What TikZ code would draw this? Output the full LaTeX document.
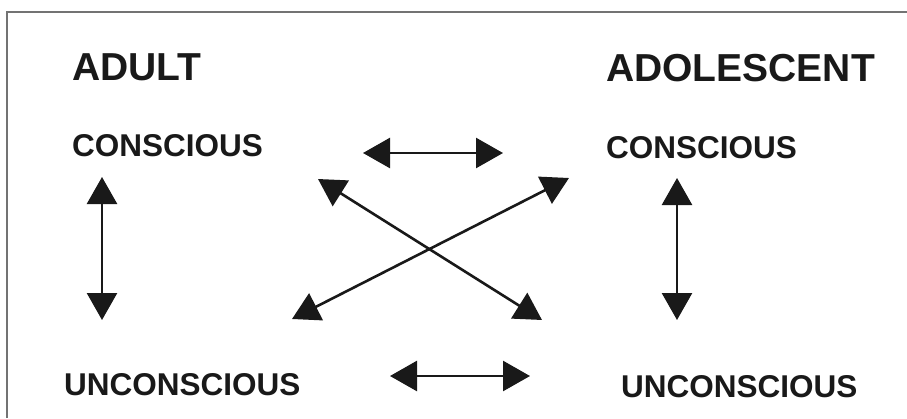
\documentclass[tikz,border=0pt]{standalone}
\usepackage{fontspec}
\setmainfont{Liberation Sans}
\usetikzlibrary{arrows.meta}
\begin{document}
\begin{tikzpicture}[x=1pt,y=-1pt,
  heading/.style={anchor=base west,inner sep=0pt,font=\fontsize{39}{39}\selectfont\bfseries,text=black!90},
  level/.style={anchor=base west,inner sep=0pt,font=\fontsize{31.5}{31.5}\selectfont\bfseries,text=black!90},
  link/.style={line width=2.6pt,draw=black!90,{Triangle[length=27pt,width=30pt]}-{Triangle[length=27pt,width=30pt]}},
  frame/.style={draw=black!55,line width=1.4pt}]
\useasboundingbox (0,0) rectangle (907,418);
\fill[white] (0,0) rectangle (907,418);
\draw[frame] (7,418) -- (7,12) -- (907,12);

% column headings
\node[heading] (adult) at (72,80) {ADULT};
\node[heading] (adol) at (606,81) {ADOLESCENT};

% levels of awareness
\node[level] (aconsc) at (72,156) {CONSCIOUS};
\node[level] (bconsc) at (606,158) {CONSCIOUS};
\node[level] (auncon) at (64,395) {UNCONSCIOUS};
\node[level] (buncon) at (621,397) {UNCONSCIOUS};

% arrow end points
\coordinate (aTop) at (102,177);
\coordinate (aBot) at (102,320);
\coordinate (bTop) at (677,178);
\coordinate (bBot) at (677,320);
\coordinate (hTopL) at (363,153);
\coordinate (hTopR) at (503,153);
\coordinate (hBotL) at (390,376);
\coordinate (hBotR) at (530,376);
\coordinate (dA1) at (318,179);
\coordinate (dA2) at (542,320);
\coordinate (dB1) at (292,319);
\coordinate (dB2) at (569,178);

\draw[link] (aTop) -- (aBot);
\draw[link] (bTop) -- (bBot);
\draw[link] (hTopL) -- (hTopR);
\draw[link] (hBotL) -- (hBotR);
\draw[link] (dA1) -- (dA2);
\draw[link] (dB1) -- (dB2);
\end{tikzpicture}
\end{document}
